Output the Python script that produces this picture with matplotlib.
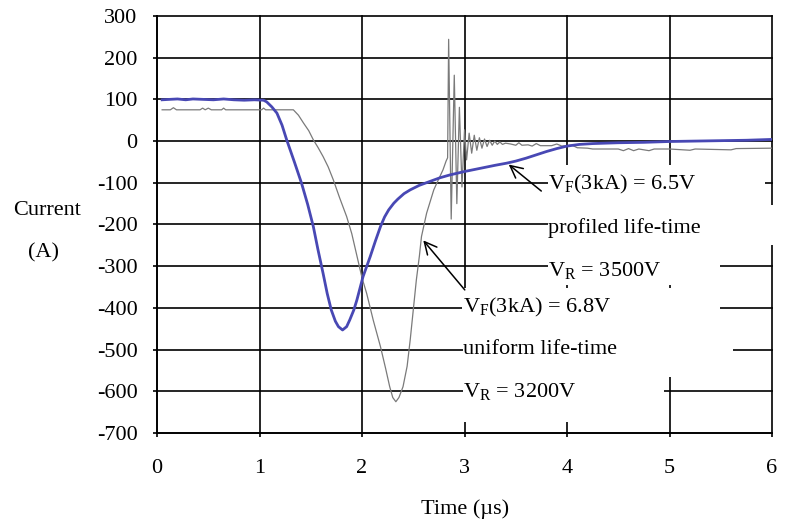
import numpy as np
import matplotlib.pyplot as plt
from matplotlib.patches import Rectangle

plt.rcParams['font.family'] = ['Liberation Serif', 'DejaVu Serif']
plt.rcParams['mathtext.fontset'] = 'custom'
plt.rcParams['mathtext.rm'] = 'Liberation Serif'
plt.rcParams['axes.unicode_minus'] = False

# profiled life-time (blue)
blue_t = [0.05, 0.12, 0.2, 0.28, 0.35, 0.45, 0.55, 0.65, 0.75, 0.85, 0.95, 1.04,
          1.07, 1.12, 1.17, 1.22, 1.265, 1.34, 1.41, 1.47, 1.525, 1.57, 1.62, 1.66,
          1.70, 1.74, 1.77, 1.81, 1.85, 1.88, 1.92, 1.95, 2.01, 2.08, 2.13, 2.18,
          2.22, 2.26, 2.31, 2.35, 2.41, 2.47, 2.56, 2.66, 2.76, 2.86, 3.0, 3.1, 3.2,
          3.3, 3.41, 3.5, 3.6, 3.7, 3.8, 3.9, 4.0, 4.12, 4.25, 4.5, 4.75, 5.0, 5.25,
          5.5, 5.75, 6.0]
blue_i = [99, 100, 101, 99, 101, 100, 99, 101, 99, 98, 99, 98,
          94, 82, 67, 38, 3, -50, -101, -152, -205, -260, -317, -365,
          -405, -432, -445, -453, -445, -429, -405, -381, -325, -277, -240, -205,
          -182, -165, -149, -139, -126, -117, -106, -97, -88, -81, -73, -68, -63,
          -58, -53, -48, -41, -33, -25, -18, -12, -8, -6, -4, -3, -1, 0,
          1, 2, 4]

# uniform life-time (gray)
gray_t = [0.05, 0.13, 0.16, 0.19, 0.42, 0.445, 0.47, 0.5, 0.53, 0.63, 0.65, 0.67,
          1.02, 1.04, 1.06, 1.33, 1.38, 1.43, 1.48, 1.525, 1.57, 1.62, 1.67, 1.72,
          1.78, 1.85, 1.90, 1.95, 2.0, 2.045, 2.11, 2.18, 2.23, 2.27, 2.30, 2.33,
          2.36, 2.40, 2.44, 2.47, 2.50, 2.53, 2.56, 2.58, 2.63, 2.70, 2.75, 2.79,
          2.82, 2.835, 2.845, 2.87, 2.90, 2.925, 2.95, 2.975, 3.0, 3.02, 3.045,
          3.07, 3.095, 3.12, 3.145, 3.17, 3.195, 3.22, 3.245, 3.27, 3.295, 3.32,
          3.345, 3.37, 3.40, 3.45, 3.5, 3.53, 3.56, 3.62, 3.66, 3.7, 3.74, 3.85,
          3.9, 3.95, 4.05, 4.1, 4.2, 4.25, 4.5, 4.55, 4.6, 4.65, 4.7, 4.8, 4.85,
          5.0, 5.2, 5.25, 5.6, 5.65, 6.0]
gray_i = [75, 75, 80, 75, 75, 79, 75, 79, 75, 75, 79, 75,
          75, 79, 75, 75, 62, 43, 25, 3, -15, -37, -62, -93,
          -135, -181, -222, -275, -328, -365, -430, -493, -545, -589, -615, -625,
          -615, -589, -540, -477, -405, -333, -275, -229, -173, -117, -90, -69,
          -48, -40, 244, -187, 158, -150, 81, -110, 27, -45, 19,
          -29, 14, -22, 8, -17, 5, -13, 2, -10, 0, -8,
          -2, -8, -5, -7, -10, -4, -10, -9, -12, -6, -11, -11,
          -7, -12, -10, -16, -17, -19, -19, -23, -18, -23, -19, -23, -19,
          -19, -22, -19, -21, -18, -17]

fig = plt.figure(figsize=(7.89, 5.24), dpi=100)
ax = fig.add_axes([0.199, 0.1737, 0.7795, 0.7958])

ax.plot(gray_t, gray_i, color='#7a7a7a', lw=0.9, zorder=3)
ax.plot(blue_t, blue_i, color='#4848b4', lw=2.0, zorder=3)

ax.set_xlim(0, 6)
ax.set_ylim(-700, 300)
ax.set_xticks(range(0, 7))
ax.set_yticks(range(-700, 301, 100))
ax.grid(True, color='black', lw=1.2)
ax.set_axisbelow(True)
for gl in ax.get_xgridlines() + ax.get_ygridlines():
    gl.set_clip_on(False)
ax.spines['top'].set_visible(False)
ax.spines['right'].set_visible(False)
ax.spines['left'].set_linewidth(1.2)
ax.spines['bottom'].set_linewidth(1.2)
ax.tick_params(axis='y', direction='out', length=3, width=1.2, pad=11, labelsize=16)
ax.tick_params(axis='x', direction='out', length=3, width=1.2, pad=16, labelsize=16)

# white text boxes hiding the grid (as in the original Excel chart)
boxes = [(3.81, -153, 2.12, 96), (3.81, -249, 2.27, 96), (3.81, -345, 1.68, 96),
         (2.975, -453, 2.515, 101), (2.99, -566, 2.63, 113), (2.99, -674, 1.96, 108)]
for x0, y0, w, h in boxes:
    ax.add_patch(Rectangle((x0, y0), w, h, facecolor='white', edgecolor='none',
                           zorder=1.5, clip_on=False))

fs = 16
ax.text(3.815, -105, r'V$_\mathrm{F}$(3kA) = 6.5V', fontsize=fs, va='center', zorder=4)
ax.text(3.815, -208, 'profiled life-time', fontsize=fs, va='center', zorder=4)
ax.text(3.815, -311, r'V$_\mathrm{R}$ = 3500V', fontsize=fs, va='center', zorder=4)
ax.text(2.985, -400, r'V$_\mathrm{F}$(3kA) = 6.8V', fontsize=fs, va='center', zorder=4)
ax.text(2.985, -501, 'uniform life-time', fontsize=fs, va='center', zorder=4)
ax.text(2.985, -602, r'V$_\mathrm{R}$ = 3200V', fontsize=fs, va='center', zorder=4)

arrow = dict(arrowstyle='->', color='black', lw=1.1, mutation_scale=22)
ax.annotate('', xy=(3.41, -52), xytext=(3.77, -124), arrowprops=arrow, zorder=4)
ax.annotate('', xy=(2.58, -233), xytext=(3.02, -362), arrowprops=arrow, zorder=4)

fig.text(0.06, 0.599, 'Current', fontsize=16, ha='center', va='center')
fig.text(0.0545, 0.517, '(A)', fontsize=16, ha='center', va='center')
fig.text(0.589, 0.029, 'Time (µs)', fontsize=16, ha='center', va='center')

fig.savefig('out.png', dpi=100)
